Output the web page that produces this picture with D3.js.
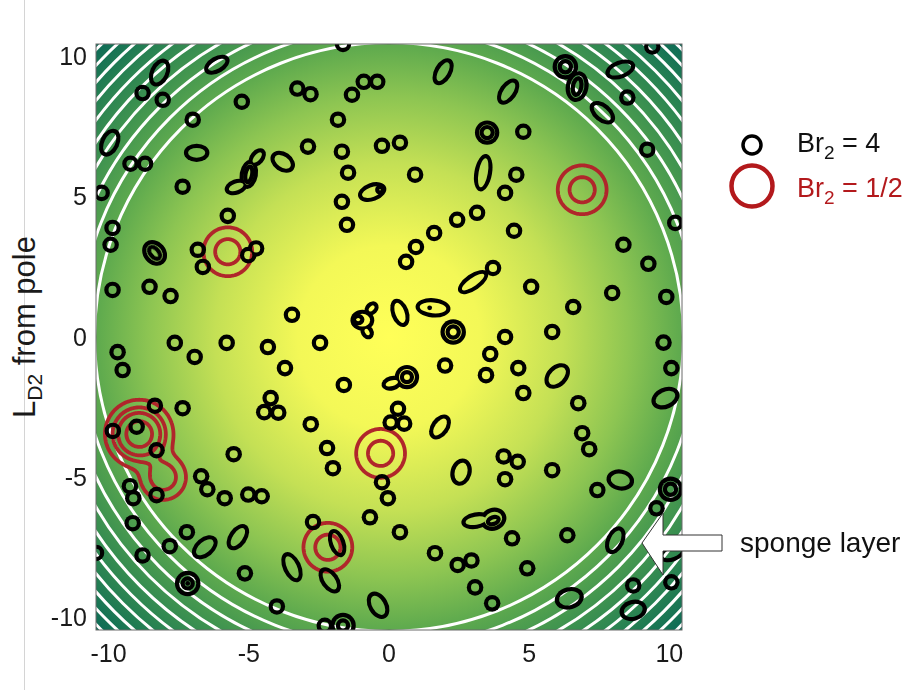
<!DOCTYPE html>
<html>
<head>
<meta charset="utf-8">
<script src="https://cdn.jsdelivr.net/npm/d3@7"></script>
<style>
body { margin: 0; background: #fff; }
text { font-family: "Liberation Sans", Arial, Helvetica, sans-serif; }
</style>
</head>
<body>
<div id="chart"></div>
<script>
var xTicks = [-10, -5, 0, 5, 10];
var yTicks = [-10, -5, 0, 5, 10];

// white contours of the sponge layer (radius from pole)
var spongeRadii = [10.5, 11.05, 11.58, 12.08, 12.55, 13.0, 13.43, 13.85, 14.25, 14.64];

// small round vortices (Br2 = 4), x, y
var spots = [
    [-8.79, 8.70], [-8.07, 8.46], [-5.25, 8.39], [-7.00, 7.75], [-10.25, 5.14], [-7.36, 5.36],
    [-2.89, 6.79], [-1.82, 7.75], [-1.32, 8.64], [-1.68, 6.61], [-1.46, 5.86], [-0.25, 6.82],
    [-1.68, 4.82], [-1.50, 4.00], [-5.75, 4.32], [-9.86, 3.89], [-9.93, 3.29], [-6.82, 3.11],
    [-6.64, 2.50], [-9.86, 1.68], [-8.54, 1.79], [-7.79, 1.46], [-3.46, 0.79], [-1.64, 10.45],
    [-9.22, 6.18], [-8.70, 6.18], [-3.27, 8.86], [-2.80, 8.66], [-0.90, 9.10], [-0.42, 9.10],
    [-4.74, 3.16], [-5.02, 2.92],
    [9.39, 10.36], [8.50, 8.54], [9.21, 6.68], [10.21, 4.07], [4.79, 7.32], [0.39, 6.93],
    [0.93, 5.79], [4.54, 5.79], [4.14, 5.14], [2.43, 4.18], [3.14, 4.43], [1.61, 3.71],
    [4.46, 3.79], [0.96, 3.21], [0.61, 2.68], [8.36, 3.29], [9.25, 2.61], [3.71, 2.46],
    [5.07, 1.79], [7.96, 1.57], [9.89, 1.43], [6.57, 1.07], [4.14, 0.00], [5.82, 0.18],
    [9.79, -0.20],
    [-7.64, -0.21], [-5.79, -0.21], [-4.32, -0.36], [-2.46, -0.21], [-9.68, -0.54], [-6.93, -0.71],
    [-9.50, -1.18], [-3.71, -1.11], [-1.61, -1.71], [-7.36, -2.54], [-8.35, -2.45], [-2.79, -3.11],
    [-2.21, -3.96], [-2.00, -4.68], [-5.54, -4.18], [-0.25, -5.18], [-0.04, -5.75], [-5.86, -5.75],
    [-8.29, -5.64], [-8.29, -4.04], [-9.00, -3.20], [-9.85, -3.35], [-9.14, -6.64], [-7.21, -6.96],
    [-7.82, -7.46], [-8.79, -7.79], [-10.45, -7.70], [-5.14, -8.43], [-4.00, -9.61], [-2.71, -6.60],
    [-0.68, -6.43], [-2.29, -10.30],
    [-4.22, -2.18], [-4.45, -2.68], [-3.95, -2.70],
    [-6.70, -4.97], [-6.48, -5.43], [-5.02, -5.62], [-4.54, -5.68], [-9.24, -5.32], [-9.12, -5.75],
    [3.61, -0.61], [2.00, -1.02], [3.46, -1.36], [4.61, -1.11], [4.79, -2.00], [6.75, -2.36],
    [6.89, -3.43], [7.14, -4.00], [4.14, -5.07], [5.82, -4.75], [7.43, -5.46], [9.54, -6.11],
    [0.39, -6.96], [6.36, -7.07], [4.39, -7.18], [1.64, -7.71], [4.93, -8.25], [3.07, -8.93],
    [3.68, -9.50], [8.71, -8.86], [10.07, -8.75], [10.07, -1.11],
    [0.32, -2.56], [0.06, -3.05], [0.54, -3.09],
    [4.09, -4.26], [4.59, -4.45], [2.45, -8.13], [2.94, -7.97]
];
var spotRadius = 0.22;

// elongated vortices: x, y, long semi-axis, short semi-axis, angle (deg)
var ovals = [
    [-6.14, 9.71, 0.42, 0.22, 30], [-8.18, 9.43, 0.45, 0.27, 65], [-9.96, 6.93, 0.45, 0.27, 65],
    [-6.86, 6.57, 0.38, 0.25, 0], [-3.79, 6.25, 0.40, 0.27, -35], [-0.60, 5.17, 0.45, 0.25, 20],
    [-8.36, 3.00, 0.42, 0.33, -50], [-5.45, 5.35, 0.35, 0.20, 20], [-5.00, 5.80, 0.45, 0.25, 80],
    [-4.70, 6.40, 0.30, 0.18, 50], [-0.95, 0.60, 0.35, 0.30, 0], [-0.62, 1.02, 0.20, 0.15, 45],
    [-0.78, 0.18, 0.20, 0.15, -60],
    [6.29, 9.64, 0.38, 0.38, 0], [6.71, 8.93, 0.48, 0.33, 80], [8.25, 9.54, 0.48, 0.25, 20],
    [7.61, 8.00, 0.45, 0.25, -40], [1.93, 9.46, 0.45, 0.24, 60], [4.25, 8.75, 0.45, 0.24, 55],
    [3.50, 7.29, 0.36, 0.36, 0], [3.36, 5.86, 0.60, 0.24, 80], [3.00, 1.96, 0.55, 0.22, 35],
    [0.39, 0.86, 0.45, 0.24, -70], [1.57, 1.04, 0.55, 0.27, -5], [2.29, 0.18, 0.38, 0.38, 0],
    [0.64, -1.43, 0.36, 0.36, 0], [0.10, -1.65, 0.30, 0.18, 15], [1.82, -3.21, 0.42, 0.25, 55],
    [6.00, -1.39, 0.45, 0.30, 45], [9.86, -2.18, 0.45, 0.30, 25], [2.57, -4.82, 0.42, 0.30, 75],
    [8.25, -5.10, 0.42, 0.30, -10], [10.04, -5.43, 0.38, 0.38, 0], [3.10, -6.55, 0.45, 0.22, 10],
    [3.72, -6.50, 0.40, 0.33, 20], [8.07, -7.25, 0.45, 0.25, 65], [10.10, -7.71, 0.42, 0.22, 20],
    [6.43, -9.32, 0.45, 0.32, 15], [8.71, -9.75, 0.42, 0.30, 15],
    [-6.57, -7.50, 0.45, 0.27, 40], [-5.39, -7.14, 0.45, 0.25, 55], [-7.18, -8.79, 0.38, 0.38, 0],
    [-3.46, -8.21, 0.50, 0.25, -65], [-1.85, -7.35, 0.45, 0.22, -70], [-2.11, -8.68, 0.45, 0.25, -55],
    [-0.39, -9.57, 0.45, 0.28, -60], [-1.64, -10.29, 0.38, 0.38, 0]
];

// second contour inside the strongest vortices
var innerRings = [
    [-0.32, 5.25, 0.10, 0.10, 0], [-8.36, 3.00, 0.25, 0.15, -50], [-5.00, 5.80, 0.28, 0.12, 80],
    [-1.10, 0.62, 0.15, 0.13, 0], [6.29, 9.64, 0.20, 0.20, 0], [6.71, 8.93, 0.30, 0.15, 80],
    [3.50, 7.29, 0.20, 0.20, 0], [2.29, 0.18, 0.20, 0.20, 0], [0.64, -1.43, 0.18, 0.18, 0],
    [10.04, -5.43, 0.20, 0.20, 0], [3.72, -6.55, 0.20, 0.12, 20], [-7.18, -8.79, 0.18, 0.18, 0],
    [-1.64, -10.29, 0.18, 0.18, 0]
];
var dots = [[1.45, 1.04], [-7.18, -8.79]];

// Br2 = 1/2 vortices: x, y, amplitude, width
var redVortices = [
    [-5.75, 3.04, 1.0, 0.5], [6.89, 5.25, 1.0, 0.5], [-0.30, -4.15, 1.0, 0.5],
    [-2.18, -7.50, 1.0, 0.5], [-8.91, -3.46, 3.61, 0.516], [-8.05, -5.00, 1.1, 0.45]
];
var redLevels = [0.22, 0.667, 1.25, 2.43];

var width = 915, height = 690;
var plot = {left: 96, right: 682, top: 44, bottom: 630};
var lim = 10.45;

var x = d3.scaleLinear().domain([-lim, lim]).range([plot.left, plot.right]);
var y = d3.scaleLinear().domain([-lim, lim]).range([plot.bottom, plot.top]);
var k = x(1) - x(0);

var svg = d3.select("#chart").append("svg")
    .attr("width", width)
    .attr("height", height);

svg.append("line")
    .attr("x1", 24.5).attr("x2", 24.5)
    .attr("y1", 0).attr("y2", height)
    .attr("stroke", "#d4d4d4").attr("stroke-width", 1);

var defs = svg.append("defs");

defs.append("clipPath").attr("id", "plotclip")
  .append("rect")
    .attr("x", plot.left).attr("y", plot.top)
    .attr("width", plot.right - plot.left).attr("height", plot.bottom - plot.top);

var grad = defs.append("radialGradient")
    .attr("id", "bg")
    .attr("gradientUnits", "userSpaceOnUse")
    .attr("cx", x(0)).attr("cy", y(0))
    .attr("r", x(lim * Math.SQRT2) - x(0));
var stops = [
    [0.00, "#ffff58"], [0.22, "#f3f857"], [0.42, "#c4e055"], [0.58, "#8dc552"],
    [0.70, "#60ab4e"], [0.80, "#43964f"], [0.90, "#288252"], [1.00, "#0c6a56"]
];
grad.selectAll("stop").data(stops).enter().append("stop")
    .attr("offset", function(d) { return d[0]; })
    .attr("stop-color", function(d) { return d[1]; });

var lineW = 4.2;
var allShapes = spots.map(function(d) { return [d[0], d[1], spotRadius, spotRadius, 0]; }).concat(ovals);

var ellipseAt = function(sel, grow) {
    sel.attr("transform", function(d) {
            return "translate(" + x(d[0]) + "," + y(d[1]) + ") rotate(" + (-d[4]) + ")"; })
        .attr("rx", function(d) { return Math.max(0.5, d[2] * k + grow); })
        .attr("ry", function(d) { return Math.max(0.5, d[3] * k + grow); });
};

var mask = defs.append("mask").attr("id", "holes")
    .attr("maskUnits", "userSpaceOnUse")
    .attr("x", 0).attr("y", 0).attr("width", width).attr("height", height);
mask.append("rect").attr("width", width).attr("height", height).attr("fill", "white");
mask.selectAll("ellipse").data(allShapes).enter().append("ellipse")
    .attr("fill", "black")
    .call(ellipseAt, -lineW / 2);

var g = svg.append("g").attr("clip-path", "url(#plotclip)");

g.append("rect")
    .attr("x", plot.left).attr("y", plot.top)
    .attr("width", plot.right - plot.left).attr("height", plot.bottom - plot.top)
    .attr("fill", "url(#bg)");

g.selectAll("circle.sponge")
    .data(spongeRadii)
  .enter().append("circle")
    .attr("class", "sponge")
    .attr("cx", x(0)).attr("cy", y(0))
    .attr("r", function(d) { return d * k; })
    .attr("fill", "none")
    .attr("stroke", "#fff")
    .attr("stroke-width", 3);

// red contours from the Br2 = 1/2 vortex field
var step = 0.04;
var n = Math.ceil(2 * lim / step);
var values = new Float64Array(n * n);
for (var j = 0; j < n; j++) {
    var py = lim - (j + 0.5) * step;
    for (var i = 0; i < n; i++) {
        var px = -lim + (i + 0.5) * step;
        var s = 0;
        redVortices.forEach(function(v) {
            var dx = px - v[0], dy = py - v[1];
            s += v[2] * Math.exp(-(dx * dx + dy * dy) / (2 * v[3] * v[3]));
        });
        values[i + j * n] = s;
    }
}
var contours = d3.contours().size([n, n]).thresholds(redLevels)(values);
var gridPath = d3.geoPath(d3.geoTransform({
    point: function(cx, cy) { this.stream.point(x(-lim + cx * step), y(lim - cy * step)); }
}));
g.selectAll("path.red")
    .data(contours)
  .enter().append("path")
    .attr("class", "red")
    .attr("d", gridPath)
    .attr("fill", "none")
    .attr("stroke", "#b0262b")
    .attr("stroke-width", 3.8)
    .attr("stroke-linejoin", "round");

// black vortex outlines: filled outer shapes with the inner shapes cut out
g.append("g")
    .attr("mask", "url(#holes)")
  .selectAll("ellipse")
    .data(allShapes)
  .enter().append("ellipse")
    .attr("fill", "#000")
    .call(ellipseAt, lineW / 2);

g.selectAll("ellipse.inner")
    .data(innerRings)
  .enter().append("ellipse")
    .attr("class", "inner")
    .attr("fill", "none")
    .attr("stroke", "#000")
    .attr("stroke-width", lineW)
    .call(ellipseAt, 0);

g.selectAll("circle.dot")
    .data(dots)
  .enter().append("circle")
    .attr("class", "dot")
    .attr("cx", function(d) { return x(d[0]); })
    .attr("cy", function(d) { return y(d[1]); })
    .attr("r", 2.4)
    .attr("fill", "#000");

svg.append("rect")
    .attr("x", plot.left).attr("y", plot.top)
    .attr("width", plot.right - plot.left).attr("height", plot.bottom - plot.top)
    .attr("fill", "none")
    .attr("stroke", "#6a6a6a")
    .attr("stroke-width", 1);

// tick labels
svg.selectAll("text.xt")
    .data(xTicks)
  .enter().append("text")
    .attr("class", "xt")
    .attr("x", function(d) { return x(d); })
    .attr("y", 662)
    .attr("text-anchor", "middle")
    .attr("font-size", 25)
    .attr("fill", "#1a1a1a")
    .text(function(d) { return d; });

svg.selectAll("text.yt")
    .data(yTicks)
  .enter().append("text")
    .attr("class", "yt")
    .attr("x", 87)
    .attr("y", function(d) { return y(d) + 8.5; })
    .attr("text-anchor", "end")
    .attr("font-size", 25)
    .attr("fill", "#1a1a1a")
    .text(function(d) { return d; });

// y axis label
var yl = svg.append("text")
    .attr("transform", "translate(35,327) rotate(-90)")
    .attr("text-anchor", "middle")
    .attr("font-size", 31)
    .attr("fill", "#1a1a1a");
yl.append("tspan").text("L");
yl.append("tspan").attr("dy", 7).attr("font-size", 21).text("D2");
yl.append("tspan").attr("dy", -7).text(" from pole");

// legend
svg.append("circle")
    .attr("cx", 752).attr("cy", 145).attr("r", 9)
    .attr("fill", "none").attr("stroke", "#000").attr("stroke-width", 3.5);
svg.append("circle")
    .attr("cx", 752).attr("cy", 186).attr("r", 20.5)
    .attr("fill", "none").attr("stroke", "#b3191c").attr("stroke-width", 4.5);

var legendRows = [
    {y: 152, value: "4", color: "#111"},
    {y: 197, value: "1/2", color: "#b3191c"}
];
legendRows.forEach(function(r) {
    var t = svg.append("text")
        .attr("x", 797).attr("y", r.y)
        .attr("font-size", 27)
        .attr("fill", r.color);
    t.append("tspan").text("Br");
    t.append("tspan").attr("dy", 7).attr("font-size", 19).text("2");
    t.append("tspan").attr("dy", -7).text(" = " + r.value);
});

// sponge layer annotation
svg.append("polygon")
    .attr("points", "642,543 663,513 663,535 722,535 722,551 663,551 663,575")
    .attr("fill", "#fff")
    .attr("stroke", "#333")
    .attr("stroke-width", 1);
svg.append("text")
    .attr("x", 740).attr("y", 552)
    .attr("font-size", 28)
    .attr("fill", "#111")
    .text("sponge layer");
</script>
</body>
</html>
